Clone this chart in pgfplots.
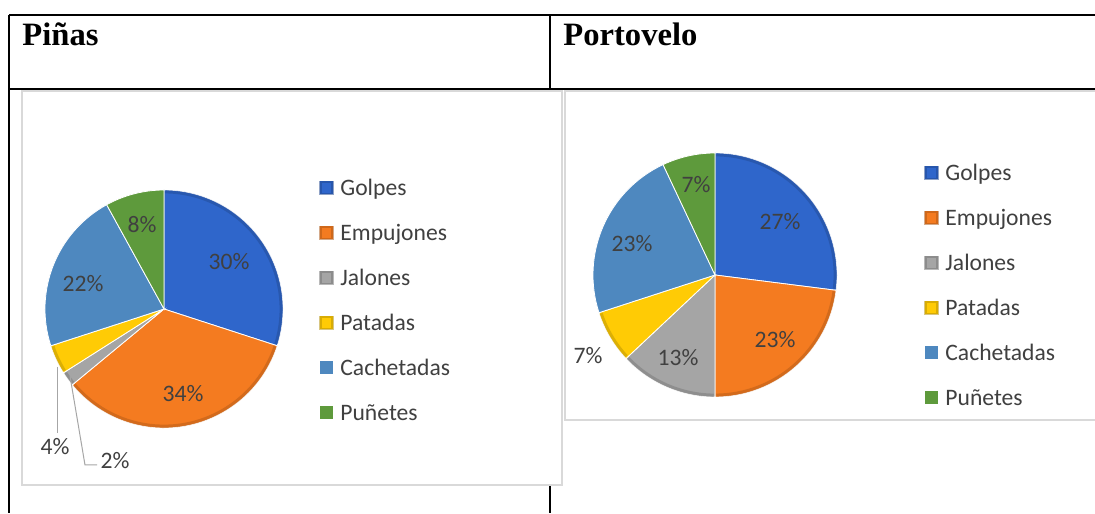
\documentclass[border=0pt]{standalone}
\usepackage{pgfplots}
\pgfplotsset{compat=1.18}
\usepackage{pgfplotstable}
\usepackage{fontspec}
\setmainfont{Carlito}
\newfontfamily\headfont{Liberation Serif}

\definecolor{cGolpes}{HTML}{2F66CB}
\definecolor{cEmpujones}{HTML}{F47B20}
\definecolor{cJalones}{HTML}{A5A5A5}
\definecolor{cPatadas}{HTML}{FFCB05}
\definecolor{cCachetadas}{HTML}{4E88BF}
\definecolor{cPunetes}{HTML}{5E9A3C}
\definecolor{lbl}{HTML}{404040}
\definecolor{frm}{HTML}{D9D9D9}

% percentages; lx, ly = label position in pixels (y from top); bev = bevelled slice
\pgfplotstableread{
cat value col lx ly bev
Golpes 30 cGolpes 229 262 1
Empujones 34 cEmpujones 183 394 1
Jalones 2 cJalones 115 461 1
Patadas 4 cPatadas 55 447 1
Cachetadas 22 cCachetadas 83 284 0
Puñetes 8 cPunetes 142 225 0
}\pinas

\pgfplotstableread{
cat value col lx ly bev
Golpes 27 cGolpes 780 222 1
Empujones 23 cEmpujones 775 340 1
Jalones 13 cJalones 678 358 1
Patadas 7 cPatadas 588 356 1
Cachetadas 23 cCachetadas 632 244 0
Puñetes 7 cPunetes 696 185 0
}\portovelo

% #1 table, #2 cx, #3 cy (from top), #4 radius (px), #5 legend marker x, #6 legend first y
\newcommand\drawpie[6]{%
  \gdef\angacc{90}%
  \pgfmathsetmacro\cY{513-#3}%
  \pgfmathsetmacro\rr{0.5*#4}%
  \pgfmathsetmacro\ri{0.5*#4-0.9}%
  \pgfplotsinvokeforeach{0,...,5}{%
    \pgfplotstablegetelem{##1}{value}\of{#1}\pgfmathtruncatemacro\v{\pgfplotsretval}%
    \pgfplotstablegetelem{##1}{col}\of{#1}\edef\c{\pgfplotsretval}%
    \pgfplotstablegetelem{##1}{cat}\of{#1}\edef\nm{\pgfplotsretval}%
    \pgfplotstablegetelem{##1}{lx}\of{#1}\edef\lx{\pgfplotsretval}%
    \pgfplotstablegetelem{##1}{ly}\of{#1}\pgfmathsetmacro\ly{513-\pgfplotsretval}%
    \pgfplotstablegetelem{##1}{bev}\of{#1}\edef\bev{\pgfplotsretval}%
    \pgfmathsetmacro\aend{\angacc-3.6*\v}%
    \pgfmathsetmacro\my{513-(#6+45*##1)}%
    \edef\temp{%
      \noexpand\fill[\c, draw=white, line width=0.4pt] (axis cs:#2,\cY) -- ++(\angacc:\rr pt)
        arc[start angle=\angacc, end angle=\aend, radius=\rr pt] -- cycle;
      \noexpand\fill[\c] (axis cs:#5,\my-6.5) rectangle (axis cs:#5+13,\my+6.5);
    }\temp
    \ifnum\bev=1
      \edef\temp{%
        \noexpand\draw[\c!70!black, line width=1.6pt, opacity=0.45] (axis cs:#2,\cY) ++(\angacc-0.6:\ri pt)
          arc[start angle=\angacc-0.6, end angle=\aend+0.6, radius=\ri pt];
        \noexpand\draw[\c!70!black, line width=1.2pt, opacity=0.5] (axis cs:#5+0.6,\my-5.9) rectangle (axis cs:#5+12.4,\my+5.9);
      }\temp
    \fi
    \edef\temp{%
      \noexpand\node[lbl, font=\noexpand\fontsize{11.8}{14}\noexpand\selectfont] at (axis cs:\lx,\ly) {\v\noexpand\%};
      \noexpand\node[lbl, anchor=base west, inner sep=0pt, font=\noexpand\fontsize{11.8}{14}\noexpand\selectfont]
        at (axis cs:#5+20,\my-7.5) {\nm};
    }\temp
    \xdef\angacc{\aend}%
  }%
}

\begin{document}
\begin{tikzpicture}
\begin{axis}[
  x=0.5pt, y=0.5pt, xmin=0, xmax=1095, ymin=0, ymax=513,
  scale only axis, hide axis, clip=false,
  at={(0,0)}, anchor=south west
]
  % table frame
  \draw[black, line width=0.9pt] (axis cs:9,498) -- (axis cs:1095,498);
  \draw[black, line width=0.9pt] (axis cs:9,424) -- (axis cs:1095,424);
  \draw[black, line width=0.9pt] (axis cs:9,498) -- (axis cs:9,0);
  \draw[black, line width=0.9pt] (axis cs:550,498) -- (axis cs:550,0);
  \node[anchor=base west, inner sep=0pt, font=\headfont\bfseries\fontsize{16.3}{19}\selectfont] at (axis cs:22,467) {Piñas};
  \node[anchor=base west, inner sep=0pt, font=\headfont\bfseries\fontsize{16.3}{19}\selectfont] at (axis cs:563,467) {Portovelo};
  % chart areas
  \filldraw[fill=white, draw=frm, line width=0.6pt] (axis cs:22,422) rectangle (axis cs:562,28);
  \filldraw[fill=white, draw=frm, line width=0.6pt] (axis cs:565,422) rectangle (axis cs:1100,93);
  \drawpie{\pinas}{164}{309}{119}{320}{188}
  \drawpie{\portovelo}{715}{275}{122}{925}{173}
  % leader lines for the small slices
  \draw[gray!70, line width=0.5pt] (axis cs:57,146) -- (axis cs:57,80);
  \draw[gray!70, line width=0.5pt] (axis cs:70,137) -- (axis cs:85,48) -- (axis cs:97,48);
\end{axis}
\pgfresetboundingbox
\path[use as bounding box] (0,0) rectangle (547.5pt,256.5pt);
\end{tikzpicture}
\end{document}
